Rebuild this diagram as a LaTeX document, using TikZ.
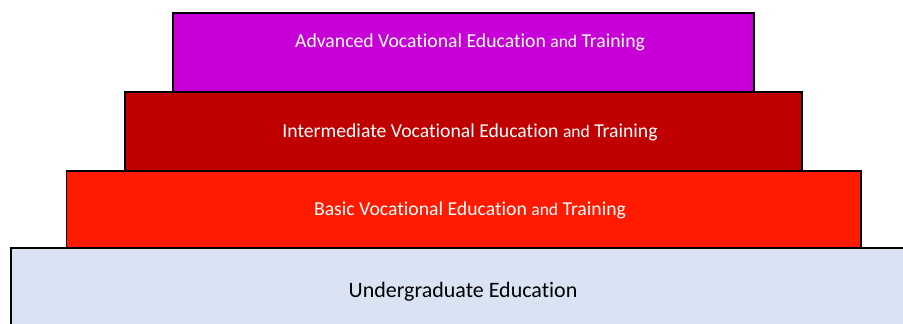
\documentclass[tikz,border=0pt]{standalone}
\usepackage{fontspec}
\setmainfont{Carlito}[Ligatures=NoCommon]
\definecolor{advcol}{HTML}{C800D8}
\definecolor{intcol}{HTML}{C00000}
\definecolor{bascol}{HTML}{FF1A00}
\definecolor{ugcol}{HTML}{DAE3F3}
\newcommand{\smalland}{{\fontsize{17.5}{20}\selectfont and}}
\begin{document}
\begin{tikzpicture}[x=1pt,y=1pt,
  tier/.style={draw=black, line width=1.8pt, anchor=north west, inner sep=0pt},
  label/.style={font=\fontsize{19.7}{23}\selectfont, inner sep=0pt, anchor=base}]
  \useasboundingbox (0,0) rectangle (903,324);
  % stacked tiers, bottom up
  \node[tier, fill=ugcol, minimum width=900pt, minimum height=82pt] (ug) at (10,76.5) {};
  \node[tier, fill=bascol, minimum width=794.5pt, minimum height=77.5pt] (bas) at (65.5,154) {};
  \node[tier, fill=intcol, minimum width=677pt, minimum height=79pt] (int) at (124,233) {};
  \node[tier, fill=advcol, minimum width=581pt, minimum height=79pt] (adv) at (172,312) {};
  % labels
  \node[label, text=white] (advt) at (470,276) {Advanced Vocational Education \smalland{} Training};
  \node[label, text=white] (intt) at (470,186.5) {Intermediate Vocational Education \smalland{} Training};
  \node[label, text=white] (bast) at (470,108.5) {Basic Vocational Education \smalland{} Training};
  \node[label, text=black, font=\fontsize{22}{26}\selectfont] (ugt) at (463,26) {Undergraduate Education};
\end{tikzpicture}
\end{document}
